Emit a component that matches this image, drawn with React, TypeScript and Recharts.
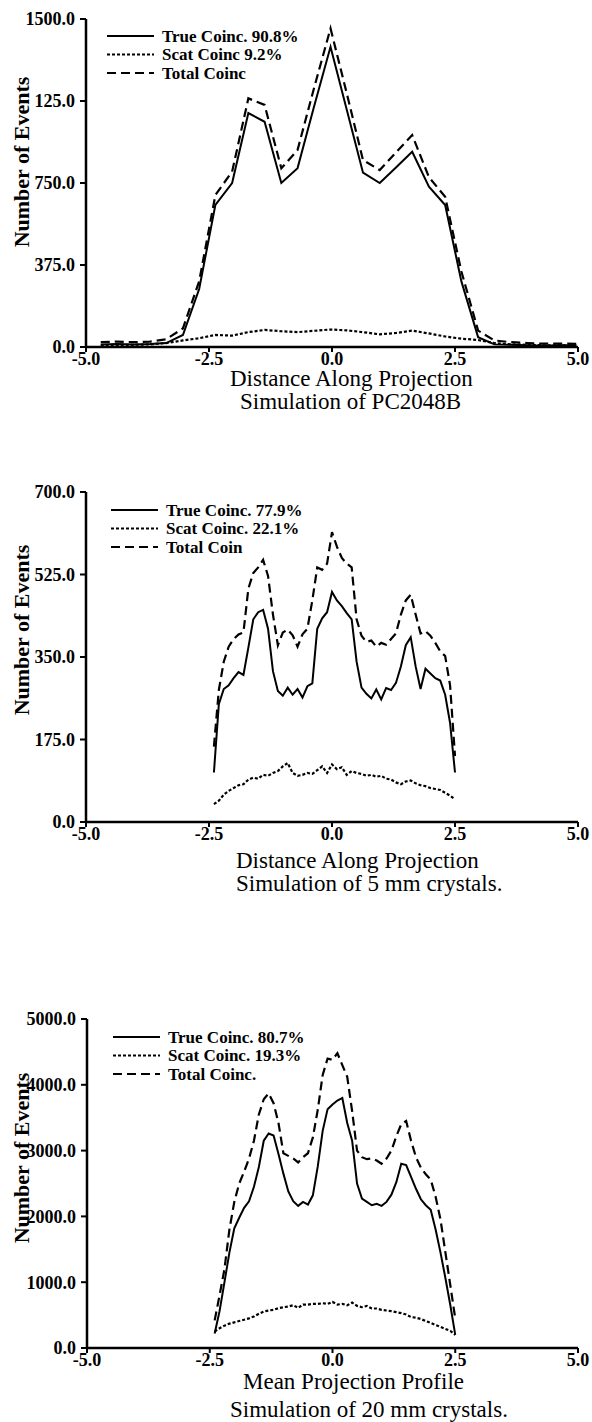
import { LineChart, Line, XAxis, YAxis, Legend } from "recharts";

const FONT = '"Liberation Serif", "DejaVu Serif", serif';

const xTicks = [-5, -2.5, 0, 2.5, 5];
const xTickLabels = ["-5.0", "-2.5", "0.0", "2.5", "5.0"];

// PC2048B simulation
const pcX = [-4.7, -4.37, -4.03, -3.7, -3.37, -3.03, -2.7, -2.37, -2.03, -1.7, -1.37, -1.03, -0.7, -0.37, -0.03, 0.3, 0.63, 0.97, 1.3, 1.63, 1.97, 2.3, 2.63, 2.97, 3.3, 3.63, 3.97, 4.3, 4.63, 4.97];
const pcTrue = [12, 14, 12, 14, 18, 55, 265, 650, 750, 1070, 1030, 750, 818, 1095, 1373, 1085, 797, 750, 821, 893, 733, 649, 300, 45, 12, 10, 8, 6, 8, 8];
const pcScat = [8, 10, 10, 12, 18, 30, 40, 55, 52, 68, 78, 72, 68, 74, 80, 76, 68, 58, 64, 75, 62, 48, 38, 32, 18, 12, 10, 8, 8, 6];
const pcTotal = [22, 25, 22, 25, 35, 85, 300, 695, 802, 1137, 1107, 817, 901, 1180, 1457, 1160, 855, 809, 890, 969, 777, 687, 345, 75, 30, 22, 18, 15, 16, 14];
const pcYTicks = [0, 375, 750, 1125, 1500];
const pcYLabels = ["0.0", "375.0", "750.0", "125.0", "1500.0"];
const pcLegend = ["True Coinc. 90.8%", "Scat Coinc 9.2%", "Total Coinc"];

// 5 mm and 20 mm crystal simulations share one sampling grid
const profX = [-2.4, -2.3, -2.2, -2.1, -2.0, -1.9, -1.8, -1.7, -1.6, -1.5, -1.4, -1.3, -1.2, -1.1, -1.0, -0.9, -0.8, -0.7, -0.6, -0.5, -0.4, -0.3, -0.2, -0.1, 0.0, 0.1, 0.2, 0.3, 0.4, 0.5, 0.6, 0.7, 0.8, 0.9, 1.0, 1.1, 1.2, 1.3, 1.4, 1.5, 1.6, 1.7, 1.8, 1.9, 2.0, 2.1, 2.2, 2.3, 2.4, 2.5];

const c5True = [105, 250, 282, 290, 305, 318, 312, 370, 430, 445, 450, 410, 320, 278, 268, 285, 270, 282, 264, 288, 294, 410, 432, 445, 488, 470, 458, 443, 430, 340, 285, 272, 262, 281, 260, 284, 280, 295, 330, 375, 392, 330, 282, 325, 315, 305, 300, 270, 210, 105];
const c5Scat = [38, 45, 58, 66, 72, 78, 80, 90, 94, 92, 100, 98, 104, 108, 118, 125, 104, 98, 100, 104, 102, 110, 118, 104, 122, 112, 116, 100, 108, 104, 102, 98, 100, 96, 98, 92, 90, 84, 80, 86, 88, 82, 78, 76, 72, 70, 68, 62, 56, 48];
const c5Total = [160, 280, 340, 372, 388, 398, 402, 495, 528, 540, 556, 522, 440, 375, 402, 408, 396, 372, 398, 410, 470, 540, 535, 548, 615, 584, 560, 548, 540, 430, 395, 382, 385, 372, 380, 376, 388, 400, 440, 470, 482, 440, 400, 405, 395, 380, 362, 352, 290, 140];
const c5YTicks = [0, 175, 350, 525, 700];
const c5YLabels = ["0.0", "175.0", "350.0", "525.0", "700.0"];
const c5Legend = ["True Coinc. 77.9%", "Scat Coinc. 22.1%", "Total Coin"];

const c20True = [220, 560, 1000, 1450, 1820, 1980, 2130, 2230, 2450, 2750, 3150, 3260, 3230, 2950, 2650, 2380, 2230, 2160, 2220, 2180, 2320, 2760, 3300, 3630, 3700, 3760, 3800, 3420, 3150, 2500, 2270, 2220, 2170, 2190, 2160, 2220, 2330, 2520, 2800, 2780, 2600, 2420, 2260, 2170, 2100, 1800, 1450, 1060, 650, 200];
const c20Scat = [250, 300, 340, 370, 390, 410, 430, 450, 480, 520, 555, 570, 580, 605, 620, 630, 650, 610, 660, 660, 670, 670, 680, 670, 700, 660, 670, 650, 690, 640, 620, 640, 600, 600, 580, 570, 560, 545, 530, 510, 470, 460, 440, 410, 380, 350, 320, 290, 260, 200];
const c20Total = [420, 800, 1200, 1800, 2220, 2500, 2680, 2880, 3150, 3550, 3780, 3870, 3720, 3420, 2960, 2920, 2880, 2820, 2900, 2960, 3200, 3620, 4150, 4400, 4380, 4480, 4300, 4120, 3600, 3000, 2900, 2870, 2880, 2850, 2800, 2880, 3000, 3220, 3400, 3450, 3150, 2900, 2740, 2640, 2560, 2300, 1950, 1450, 950, 450];
const c20YTicks = [0, 1000, 2000, 3000, 4000, 5000];
const c20YLabels = ["0.0", "1000.0", "2000.0", "3000.0", "4000.0", "5000.0"];
const c20Legend = ["True Coinc. 80.7%", "Scat Coinc. 19.3%", "Total Coinc."];

const dashes = [undefined, "3 2", "9 5"];

type TitleProps = { lines: string[]; xs: number[]; ys: number[] };

function XTitle({ lines, xs, ys }: TitleProps) {
  return (
    <g>
      {lines.map((t, i) => (
        <text key={i} x={xs[i]} y={ys[i]} fontFamily={FONT} fontSize={23} fill="#000">
          {t}
        </text>
      ))}
    </g>
  );
}

function YTitle({ cy }: { cy: number }) {
  return (
    <text
      x={21}
      y={cy}
      transform={`rotate(-90 21 ${cy})`}
      textAnchor="middle"
      dominantBaseline="central"
      fontFamily={FONT}
      fontSize={22}
      fontWeight={700}
      fill="#000"
    >
      Number of Events
    </text>
  );
}

function LegendBox({ labels }: { labels: string[] }) {
  return (
    <svg width={270} height={58}>
      {labels.map((t, i) => (
        <g key={i}>
          <line x1={0} x2={47} y1={9 + i * 18.5} y2={9 + i * 18.5} stroke="#000" strokeWidth={2} strokeDasharray={dashes[i]} />
          <text x={55} y={9 + i * 18.5} dominantBaseline="central" fontFamily={FONT} fontSize={17} fontWeight={700} fill="#000">
            {t}
          </text>
        </g>
      ))}
    </svg>
  );
}

type ChartProps = {
  top: number;
  height: number;
  plotTop: number;
  plotBottom: number;
  plotLeft: number;
  xs: number[];
  trueV: number[];
  scatV: number[];
  totalV: number[];
  yMax: number;
  yTicks: number[];
  yLabels: string[];
  legend: string[];
  legendLeft: number;
  legendTop: number;
  yTitleY: number;
  titles: string[];
  titleX: number[];
  titleY: number[];
};

function ProfileChart(p: ChartProps) {
  const rows = p.xs.map((x, i) => ({ x, tru: p.trueV[i], scat: p.scatV[i], total: p.totalV[i] }));
  const tickStyle = { fill: "#000", fontSize: 18, fontWeight: 700, fontFamily: FONT };
  return (
    <div style={{ position: "absolute", left: 0, top: p.top, width: 592, height: p.height }}>
      <LineChart
        width={592}
        height={p.height}
        data={rows}
        margin={{ top: p.plotTop, right: 14, left: 0, bottom: p.height - p.plotBottom - 30 }}
      >
        <XAxis
          dataKey="x"
          type="number"
          domain={[-5, 5]}
          ticks={xTicks}
          interval={0}
          tickFormatter={(v: number) => xTickLabels[xTicks.indexOf(v)]}
          height={30}
          axisLine={{ stroke: "#000", strokeWidth: 2.5 }}
          tickLine={{ stroke: "#000", strokeWidth: 2 }}
          tickSize={5}
          tickMargin={0}
          tick={tickStyle}
          label={<XTitle lines={p.titles} xs={p.titleX} ys={p.titleY} />}
        />
        <YAxis
          type="number"
          domain={[0, p.yMax]}
          ticks={p.yTicks}
          interval={0}
          tickFormatter={(v: number) => p.yLabels[p.yTicks.indexOf(v)]}
          width={p.plotLeft}
          axisLine={{ stroke: "#000", strokeWidth: 2.5 }}
          tickLine={{ stroke: "#000", strokeWidth: 2 }}
          tickSize={6}
          tickMargin={5}
          tick={tickStyle}
          label={<YTitle cy={p.yTitleY} />}
        />
        <Legend
          layout="horizontal"
          verticalAlign="middle"
          align="center"
          content={() => <LegendBox labels={p.legend} />}
          wrapperStyle={{ position: "absolute", left: p.legendLeft, top: p.legendTop, width: 270, height: 58 }}
        />
        <Line type="linear" dataKey="tru" stroke="#000" strokeWidth={2} dot={false} isAnimationActive={false} />
        <Line type="linear" dataKey="scat" stroke="#000" strokeWidth={2.2} strokeDasharray="3 2" dot={false} isAnimationActive={false} />
        <Line type="linear" dataKey="total" stroke="#000" strokeWidth={2.2} strokeDasharray="9 5" dot={false} isAnimationActive={false} />
      </LineChart>
    </div>
  );
}

export default function App() {
  return (
    <div style={{ position: "absolute", left: 0, top: 0, width: 592, height: 1422, background: "#fff" }}>
      <ProfileChart
        top={0}
        height={420}
        plotTop={19}
        plotBottom={347}
        plotLeft={86}
        xs={pcX}
        trueV={pcTrue}
        scatV={pcScat}
        totalV={pcTotal}
        yMax={1500}
        yTicks={pcYTicks}
        yLabels={pcYLabels}
        legend={pcLegend}
        legendLeft={107}
        legendTop={27}
        yTitleY={162}
        titles={["Distance Along Projection", "Simulation of PC2048B"]}
        titleX={[230, 240]}
        titleY={[386, 409]}
      />
      <ProfileChart
        top={440}
        height={460}
        plotTop={52}
        plotBottom={382}
        plotLeft={86}
        xs={profX}
        trueV={c5True}
        scatV={c5Scat}
        totalV={c5Total}
        yMax={700}
        yTicks={c5YTicks}
        yLabels={c5YLabels}
        legend={c5Legend}
        legendLeft={111}
        legendTop={61}
        yTitleY={190}
        titles={["Distance Along Projection", "Simulation of 5 mm crystals."]}
        titleX={[236, 236]}
        titleY={[428, 451]}
      />
      <ProfileChart
        top={960}
        height={462}
        plotTop={59}
        plotBottom={388}
        plotLeft={87}
        xs={profX}
        trueV={c20True}
        scatV={c20Scat}
        totalV={c20Total}
        yMax={5000}
        yTicks={c20YTicks}
        yLabels={c20YLabels}
        legend={c20Legend}
        legendLeft={113}
        legendTop={68}
        yTitleY={198}
        titles={["Mean Projection Profile", "Simulation of 20 mm crystals."]}
        titleX={[243, 230]}
        titleY={[429, 457]}
      />
    </div>
  );
}
